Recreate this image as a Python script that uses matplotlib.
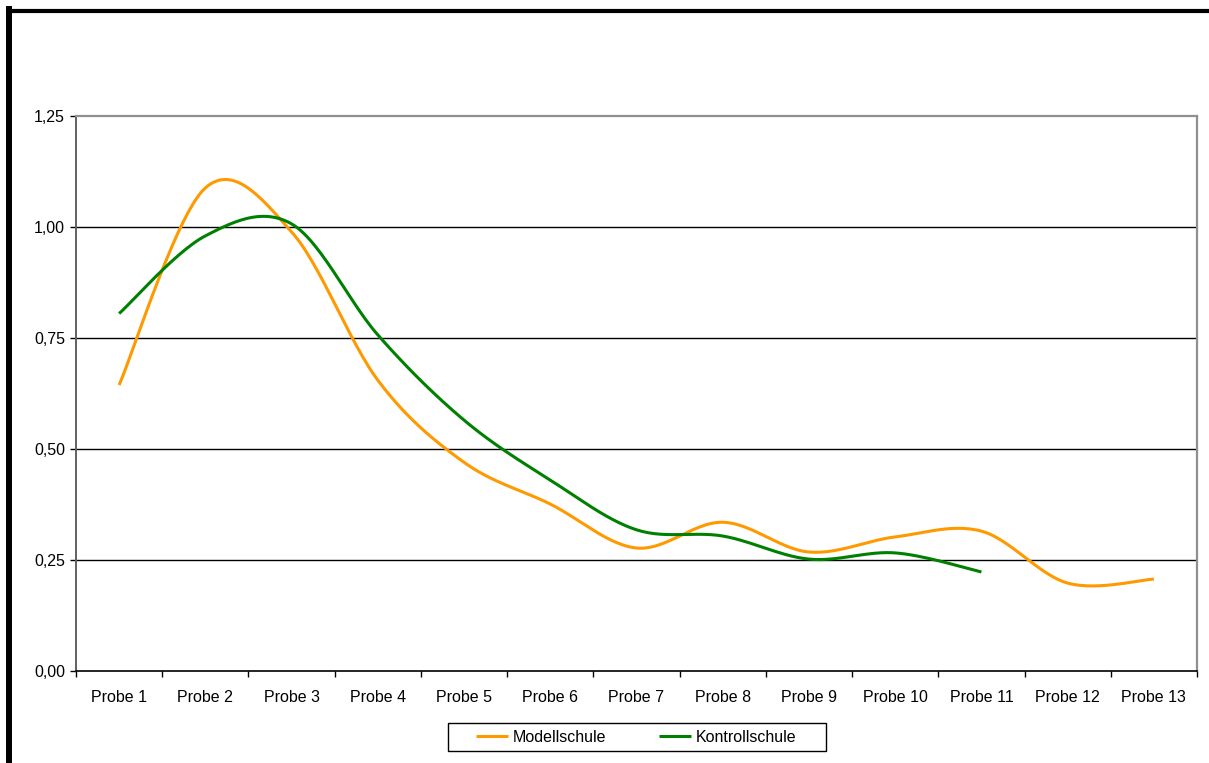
import numpy as np
import matplotlib
matplotlib.use("Agg")
import matplotlib.pyplot as plt
from matplotlib.lines import Line2D
from matplotlib.patches import Rectangle
from matplotlib.ticker import FixedLocator, FuncFormatter

plt.rcParams['font.family'] = ['Liberation Sans', 'DejaVu Sans']

probes = [f'Probe {i}' for i in range(1, 14)]
modellschule = [0.644, 1.088, 0.989, 0.655, 0.470, 0.376, 0.277, 0.335,
                0.268, 0.302, 0.315, 0.198, 0.207]
kontrollschule = [0.805, 0.980, 1.007, 0.757, 0.565, 0.430, 0.318, 0.304,
                  0.252, 0.266, 0.223]

ORANGE = '#FF9900'
GREEN = '#008000'


def smooth(xs, ys, steps=30):
    # Excel-style smoothed line: cubic Bezier segments, Catmull-Rom control points
    xs = np.asarray(xs, float)
    ys = np.asarray(ys, float)
    px = np.concatenate([[xs[0]], xs, [xs[-1]]])
    py = np.concatenate([[ys[0]], ys, [ys[-1]]])
    outx, outy = [], []
    t = np.linspace(0, 1, steps)
    for i in range(1, len(px) - 2):
        p0 = np.array([px[i], py[i]])
        p3 = np.array([px[i + 1], py[i + 1]])
        c1 = p0 + (np.array([px[i + 1], py[i + 1]]) - np.array([px[i - 1], py[i - 1]])) / 6
        c2 = p3 - (np.array([px[i + 2], py[i + 2]]) - np.array([px[i], py[i]])) / 6
        pts = ((1 - t) ** 3)[:, None] * p0 + (3 * (1 - t) ** 2 * t)[:, None] * c1 \
            + (3 * (1 - t) * t ** 2)[:, None] * c2 + (t ** 3)[:, None] * p3
        outx.extend(pts[:, 0])
        outy.extend(pts[:, 1])
    return outx, outy


W, H = 1209, 763
fig = plt.figure(figsize=(W / 100, H / 100), dpi=100)
ax = fig.add_axes([76 / W, (H - 671) / H, (1197 - 76) / W, (671 - 116) / H])

for y in [0.25, 0.5, 0.75, 1.0]:
    ax.axhline(y, color='black', lw=1.0, zorder=1)

x1 = np.arange(1, len(modellschule) + 1)
x2 = np.arange(1, len(kontrollschule) + 1)
sx, sy = smooth(x1, modellschule)
ax.plot(sx, sy, color=ORANGE, lw=2.2, label='Modellschule', zorder=3,
        solid_capstyle='butt')
sx, sy = smooth(x2, kontrollschule)
ax.plot(sx, sy, color=GREEN, lw=2.2, label='Kontrollschule', zorder=3,
        solid_capstyle='butt')

ax.set_xlim(0.5, 13.5)
ax.set_ylim(0, 1.25)
ax.set_yticks([0, 0.25, 0.5, 0.75, 1.0, 1.25])
ax.yaxis.set_major_formatter(FuncFormatter(lambda v, p: f'{v:.2f}'.replace('.', ',')))

ax.xaxis.set_major_locator(FixedLocator(np.arange(0.5, 14, 1.0)))
ax.xaxis.set_major_formatter(FuncFormatter(lambda v, p: ''))
ax.xaxis.set_minor_locator(FixedLocator(x1))
ax.set_xticklabels(probes, minor=True)
ax.tick_params(axis='x', which='minor', length=0, pad=14, labelsize=11.5)
ax.tick_params(axis='x', which='major', length=4, width=1, color='black', direction='out')
ax.tick_params(axis='y', length=4, width=1, color='black', direction='out',
               labelsize=11.5, pad=4)

for side in ['top', 'right']:
    ax.spines[side].set_color('#909090')
    ax.spines[side].set_linewidth(1.6)
ax.spines['left'].set_color('#606060')
ax.spines['left'].set_linewidth(1.4)
ax.spines['bottom'].set_color('black')
ax.spines['bottom'].set_linewidth(1.2)

# legend entries without their own frame; the box is drawn separately
leg = ax.legend(loc='center', bbox_to_anchor=(636.5 / W, 1 - 737 / H),
                bbox_transform=fig.transFigure, ncol=2, fontsize=11.5,
                frameon=False, handlelength=2.0,
                handletextpad=0.3, columnspacing=3.3, borderpad=0.45,
                borderaxespad=0)
fig.add_artist(Rectangle((448 / W, 1 - 751 / H), (826 - 448) / W, 28 / H,
                         transform=fig.transFigure, facecolor='none',
                         edgecolor='black', lw=1.0))

# outer frame, left and top edges
fig.add_artist(Line2D([9 / W, 9 / W], [0, 1 - 9 / H], color='black', lw=4.3,
                      transform=fig.transFigure, solid_capstyle='projecting'))
fig.add_artist(Line2D([9 / W, 1], [1 - 11 / H, 1 - 11 / H], color='black', lw=3.0,
                      transform=fig.transFigure, solid_capstyle='projecting'))

fig.savefig('out.png', dpi=100)
